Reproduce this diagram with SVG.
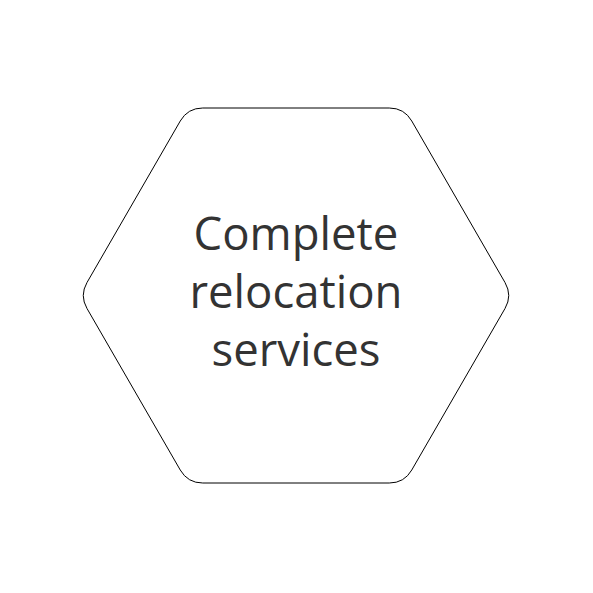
<svg xmlns="http://www.w3.org/2000/svg" width="593" height="593" viewBox="0 0 593 593">
<style>
.shape{fill:#ffffff;stroke:#000000;stroke-width:1}
.label{font-family:"Open Sans","Liberation Sans",sans-serif;font-size:45.5px;fill:#333333;text-anchor:middle}
</style>
<rect width="593" height="593" fill="#ffffff"/>
<g id="node-relocation">
<path class="shape" d="M 202.75 108 L 389.25 108 Q 404.25 108 411.75 121 L 505 282.5 Q 512.5 295.5 505 308.5 L 411.75 470 Q 404.25 483 389.25 483 L 202.75 483 Q 187.75 483 180.25 470 L 87 308.5 Q 79.5 295.5 87 282.5 L 180.25 121 Q 187.75 108 202.75 108 Z"/>
<text class="label" x="296" y="250">Complete</text>
<text class="label" x="296" y="308">relocation</text>
<text class="label" x="296" y="366">services</text>
</g>
<g id="connectors"></g>
</svg>
